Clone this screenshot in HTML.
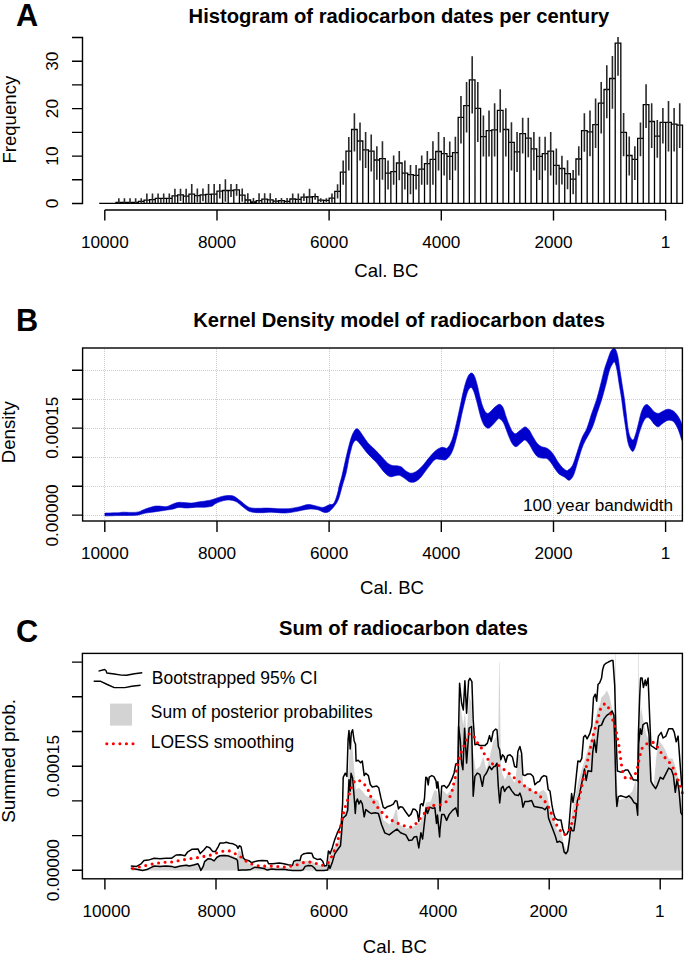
<!DOCTYPE html>
<html><head><meta charset="utf-8"><style>
html,body{margin:0;padding:0;background:#fff;}
svg{display:block;font-family:"Liberation Sans",sans-serif;}
</style></head><body>
<svg width="685" height="962" viewBox="0 0 685 962">
<rect width="685" height="962" fill="#fff"/>
<path d="M99.19 203.3V203.3H104.80V203.3ZM104.80 203.3V203.3H110.41V203.3ZM110.41 203.3V203.3H116.02V203.3ZM116.02 203.3V202.5H121.63V203.3ZM121.63 203.3V202.5H127.23V203.3ZM127.23 203.3V202.5H132.84V203.3ZM132.84 203.3V202.3H138.45V203.3ZM138.45 203.3V201.4H144.06V203.3ZM144.06 203.3V200.2H149.67V203.3ZM149.67 203.3V199.6H155.28V203.3ZM155.28 203.3V198.4H160.89V203.3ZM160.89 203.3V198.4H166.50V203.3ZM166.50 203.3V198.4H172.11V203.3ZM172.11 203.3V195.8H177.72V203.3ZM177.72 203.3V194.8H183.33V203.3ZM183.32 203.3V196.2H188.93V203.3ZM188.93 203.3V194.1H194.54V203.3ZM194.54 203.3V195.6H200.15V203.3ZM200.15 203.3V194.9H205.76V203.3ZM205.76 203.3V194.4H211.37V203.3ZM211.37 203.3V194.1H216.98V203.3ZM216.98 203.3V191.2H222.59V203.3ZM222.59 203.3V190.5H228.20V203.3ZM228.20 203.3V190.5H233.81V203.3ZM233.81 203.3V189.8H239.41V203.3ZM239.41 203.3V195.2H245.02V203.3ZM245.02 203.3V200.0H250.63V203.3ZM250.63 203.3V202.0H256.24V203.3ZM256.24 203.3V200.7H261.85V203.3ZM261.85 203.3V199.1H267.46V203.3ZM267.46 203.3V199.8H273.07V203.3ZM273.07 203.3V201.2H278.68V203.3ZM278.68 203.3V200.7H284.29V203.3ZM284.29 203.3V201.4H289.90V203.3ZM289.90 203.3V199.0H295.50V203.3ZM295.50 203.3V199.4H301.11V203.3ZM301.11 203.3V197.2H306.72V203.3ZM306.72 203.3V197.0H312.33V203.3ZM312.33 203.3V196.6H317.94V203.3ZM317.94 203.3V200.1H323.55V203.3ZM323.55 203.3V200.3H329.16V203.3ZM329.16 203.3V198.1H334.77V203.3ZM334.77 203.3V191.4H340.38V203.3ZM340.38 203.3V172.1H345.99V203.3ZM345.99 203.3V151.2H351.59V203.3ZM351.60 203.3V129.5H357.20V203.3ZM357.20 203.3V141.0H362.81V203.3ZM362.81 203.3V149.8H368.42V203.3ZM368.42 203.3V151.2H374.03V203.3ZM374.03 203.3V160.0H379.64V203.3ZM379.64 203.3V158.6H385.25V203.3ZM385.25 203.3V173.2H390.86V203.3ZM390.86 203.3V171.6H396.47V203.3ZM396.47 203.3V163.0H402.08V203.3ZM402.08 203.3V173.2H407.69V203.3ZM407.69 203.3V174.7H413.29V203.3ZM413.29 203.3V175.4H418.90V203.3ZM418.90 203.3V169.2H424.51V203.3ZM424.51 203.3V163.7H430.12V203.3ZM430.12 203.3V159.3H435.73V203.3ZM435.73 203.3V151.5H441.34V203.3ZM441.34 203.3V153.7H446.95V203.3ZM446.95 203.3V156.4H452.56V203.3ZM452.56 203.3V152.6H458.17V203.3ZM458.17 203.3V117.4H463.77V203.3ZM463.77 203.3V105.6H469.38V203.3ZM469.38 203.3V79.9H474.99V203.3ZM474.99 203.3V108.3H480.60V203.3ZM480.60 203.3V136.7H486.21V203.3ZM486.21 203.3V130.6H491.82V203.3ZM491.82 203.3V129.8H497.43V203.3ZM497.43 203.3V110.4H503.04V203.3ZM503.04 203.3V129.5H508.65V203.3ZM508.65 203.3V142.3H514.26V203.3ZM514.26 203.3V151.9H519.87V203.3ZM519.87 203.3V133.6H525.47V203.3ZM525.47 203.3V138.2H531.08V203.3ZM531.08 203.3V148.8H536.69V203.3ZM536.69 203.3V156.4H542.30V203.3ZM542.30 203.3V153.7H547.91V203.3ZM547.91 203.3V151.1H553.52V203.3ZM553.52 203.3V165.3H559.13V203.3ZM559.13 203.3V168.5H564.74V203.3ZM564.74 203.3V173.6H570.35V203.3ZM570.35 203.3V179.1H575.96V203.3ZM575.95 203.3V159.0H581.56V203.3ZM581.56 203.3V130.6H587.17V203.3ZM587.17 203.3V131.9H592.78V203.3ZM592.78 203.3V124.6H598.39V203.3ZM598.39 203.3V103.2H604.00V203.3ZM604.00 203.3V89.5H609.61V203.3ZM609.61 203.3V78.5H615.22V203.3ZM615.22 203.3V43.2H620.83V203.3ZM620.83 203.3V132.4H626.44V203.3ZM626.44 203.3V155.5H632.04V203.3ZM632.05 203.3V159.3H637.65V203.3ZM637.65 203.3V138.3H643.26V203.3ZM643.26 203.3V104.6H648.87V203.3ZM648.87 203.3V121.5H654.48V203.3ZM654.48 203.3V136.1H660.09V203.3ZM660.09 203.3V122.4H665.70V203.3ZM665.70 203.3V122.4H671.31V203.3ZM671.31 203.3V124.2H676.92V203.3ZM676.92 203.3V125.1H682.53V203.3Z" stroke="#000" stroke-width="1.3" fill="#fff"/>
<path d="M118.82 198.3V203.3M124.43 198.3V203.3M130.04 198.3V203.3M135.65 198.3V203.3M141.26 198.3V203.3M146.87 193.4V203.3M152.48 193.4V203.3M158.08 193.4V203.3M163.69 193.4V203.3M169.30 193.4V203.3M174.91 188.7V202.9M180.52 188.7V200.9M186.13 188.7V203.3M191.74 184.1V203.3M197.35 188.6V202.6M202.96 188.6V201.2M208.57 183.9V203.3M214.17 183.9V203.3M219.78 183.9V198.5M225.39 179.3V201.7M231.00 183.9V197.1M236.61 183.9V195.7M242.22 188.6V201.8M247.83 193.3V203.3M253.44 198.1V203.3M259.05 193.3V203.3M264.66 193.3V203.3M270.26 193.3V203.3M275.87 198.1V203.3M281.48 198.1V203.3M287.09 198.1V203.3M292.70 193.4V203.3M298.31 193.4V203.3M303.92 193.4V201.0M309.53 188.7V203.3M315.14 193.4V199.8M320.75 198.3V201.9M326.35 198.3V202.3M331.96 193.4V202.8M337.57 184.3V198.5M343.18 160.4V184.8M348.79 136.9V170.5M354.40 113.2V151.5M360.01 122.6V160.6M365.62 131.9V168.1M371.23 134.4V171.6M376.84 146.3V179.8M382.44 141.3V179.8M388.05 160.4V189.4M393.66 155.6V184.8M399.27 150.9V180.2M404.88 160.4V189.4M410.49 165.0V194.2M416.10 165.0V189.4M421.71 155.6V184.8M427.32 150.9V184.8M432.93 141.3V184.8M438.53 131.9V170.5M444.14 136.9V175.4M449.75 141.5V180.1M455.36 136.7V170.5M460.97 96.1V143.5M466.58 82.0V132.6M472.19 56.2V113.4M477.80 82.0V142.0M483.41 115.4V156.4M489.02 110.4V156.4M494.62 103.3V156.4M500.23 89.2V132.6M505.84 108.3V156.4M511.45 122.3V170.5M517.06 132.1V172.1M522.67 117.7V153.4M528.28 117.7V157.2M533.89 132.1V170.5M539.50 136.7V180.0M545.11 136.7V170.5M550.71 132.1V175.4M556.32 148.4V184.7M561.93 155.7V184.6M567.54 160.3V189.2M573.15 170.0V194.3M578.76 146.2V175.4M584.37 113.2V151.7M589.98 110.5V156.2M595.59 98.6V148.0M601.20 82.1V133.4M606.80 65.3V118.2M612.41 56.0V108.7M618.02 37.0V75.7M623.63 112.9V156.2M629.24 136.5V175.4M634.85 146.2V180.0M640.46 122.4V156.2M646.07 84.3V127.9M651.68 103.2V148.0M657.29 120.0V157.7M662.89 108.1V143.4M668.50 101.0V151.6M674.11 108.1V151.6M679.72 103.2V148.0" stroke="#2a2a2a" stroke-width="1.6" fill="none"/>
<path d="M72 37.5H82.5V203.5H72M72 179.8H82.5M72 156.1H82.5M72 132.4H82.5M72 108.6H82.5M72 84.9H82.5M72 61.2H82.5" stroke="#000" stroke-width="1.4" fill="none"/>
<path d="M104.8 210H665.6M104.8 210V220.5M217.0 210V220.5M329.1 210V220.5M441.3 210V220.5M553.5 210V220.5M665.6 210V220.5" stroke="#000" stroke-width="1.4" fill="none"/>
<text transform="translate(58.0 203.5) rotate(-90)" text-anchor="middle" font-size="17.2" >0</text>
<text transform="translate(58.0 156.1) rotate(-90)" text-anchor="middle" font-size="17.2" >10</text>
<text transform="translate(58.0 108.6) rotate(-90)" text-anchor="middle" font-size="17.2" >20</text>
<text transform="translate(58.0 61.2) rotate(-90)" text-anchor="middle" font-size="17.2" >30</text>
<text x="104.8" y="247.8" text-anchor="middle" font-size="17.2" >10000</text>
<text x="217.0" y="247.8" text-anchor="middle" font-size="17.2" >8000</text>
<text x="329.1" y="247.8" text-anchor="middle" font-size="17.2" >6000</text>
<text x="441.3" y="247.8" text-anchor="middle" font-size="17.2" >4000</text>
<text x="553.5" y="247.8" text-anchor="middle" font-size="17.2" >2000</text>
<text x="665.6" y="247.8" text-anchor="middle" font-size="17.2" >1</text>
<text x="386.4" y="276.6" text-anchor="middle" font-size="18.6" >Cal. BC</text>
<text transform="translate(16.0 119.7) rotate(-90)" text-anchor="middle" font-size="18.6" >Frequency</text>
<text x="398.9" y="23.0" text-anchor="middle" font-size="20.2" font-weight="bold">Histogram of radiocarbon dates per century</text>
<text x="16.0" y="25.6" font-size="30.7" font-weight="bold">A</text>
<path d="M83 515.5H682M83 486.5H682M83 457.5H682M83 428.5H682M83 399.5H682M83 370.5H682M104.5 349V520.5M216.5 349V520.5M329.5 349V520.5M441.5 349V520.5M553.5 349V520.5M665.5 349V520.5" stroke="#cdcdcd" stroke-width="1" stroke-dasharray="1 1" fill="none"/>
<path d="M104.9 513.1C107.0 513.0 114.5 512.9 117.5 512.8C120.5 512.6 120.5 512.3 122.8 512.2C125.1 512.1 128.9 512.5 131.5 512.4C134.1 512.3 136.2 512.5 138.5 511.9C140.8 511.3 142.9 509.8 145.5 508.9C148.1 508.0 152.0 506.8 154.3 506.3C156.7 505.8 157.6 506.1 159.6 506.1C161.6 506.2 164.3 507.0 166.6 506.6C168.9 506.2 171.6 504.4 173.6 503.7C175.6 503.0 177.1 502.5 178.8 502.3C180.6 502.1 182.1 502.5 184.1 502.6C186.1 502.7 188.5 503.2 191.1 503.1C193.7 503.0 197.0 502.1 199.9 501.7C202.8 501.3 206.1 501.0 208.6 500.5C211.1 500.0 212.8 499.4 215.0 498.7C217.2 498.0 219.7 496.9 222.0 496.4C224.3 495.9 226.9 495.5 229.0 495.5C231.1 495.5 232.2 495.4 234.3 496.4C236.4 497.4 239.0 499.9 241.3 501.6C243.6 503.4 246.0 505.8 248.3 506.9C250.6 508.0 252.1 508.1 255.3 508.3C258.5 508.5 263.8 508.0 267.6 508.1C271.4 508.2 274.6 508.6 278.1 508.7C281.6 508.8 285.1 509.0 288.6 508.7C292.1 508.4 295.9 507.6 299.1 506.9C302.3 506.2 305.3 504.8 307.9 504.6C310.5 504.4 312.6 505.2 314.9 505.7C317.2 506.2 320.2 507.2 321.9 507.4C323.6 507.6 323.8 507.2 325.0 506.8C326.2 506.4 327.8 505.2 329.2 504.7C330.6 504.2 332.1 504.9 333.3 503.8C334.5 502.7 335.3 500.1 336.1 498.0C336.9 495.9 337.5 493.4 338.0 491.5C338.5 489.6 338.4 488.9 339.0 486.5C339.6 484.1 340.7 480.6 341.6 477.2C342.5 473.8 343.3 469.6 344.2 465.8C345.1 462.0 345.9 458.0 346.8 454.3C347.7 450.6 348.5 447.0 349.4 443.9C350.3 440.8 351.1 437.9 352.0 435.6C352.9 433.4 353.8 431.5 354.6 430.4C355.4 429.3 355.9 428.8 356.7 428.8C357.5 428.8 358.2 429.1 359.3 430.4C360.4 431.7 362.1 434.6 363.5 436.6C364.9 438.6 366.1 440.6 367.6 442.4C369.2 444.2 371.1 445.9 372.8 447.6C374.5 449.3 376.8 451.6 378.0 452.8C379.2 454.0 379.0 453.7 380.0 454.8C381.0 455.9 382.7 457.9 384.1 459.4C385.5 460.8 386.8 462.5 388.2 463.5C389.6 464.5 390.8 465.1 392.3 465.5C393.8 465.9 395.9 465.5 397.4 465.8C398.9 466.1 400.1 466.3 401.5 467.1C402.9 467.9 404.0 469.7 405.5 470.7C407.0 471.7 409.0 473.0 410.7 473.2C412.4 473.4 414.1 472.6 415.8 471.7C417.5 470.8 419.2 469.3 420.9 467.6C422.6 465.9 424.3 463.6 426.0 461.5C427.7 459.4 429.4 457.2 431.1 455.3C432.8 453.4 434.5 451.5 436.2 450.2C437.9 448.9 439.8 447.8 441.3 447.4C442.8 447.0 444.4 447.9 445.4 448.0C446.4 448.1 446.3 448.9 447.1 448.2C447.9 447.5 449.2 446.1 450.2 444.0C451.2 441.9 452.3 439.2 453.3 435.7C454.3 432.2 455.3 427.7 456.4 423.2C457.4 418.7 458.6 413.5 459.6 408.7C460.7 403.9 461.7 398.5 462.7 394.1C463.7 389.7 464.8 385.4 465.8 382.2C466.8 379.0 467.9 376.4 468.9 374.9C469.9 373.4 470.9 372.9 471.8 373.1C472.8 373.4 473.7 374.4 474.6 376.4C475.5 378.3 476.3 381.5 477.2 384.8C478.1 388.1 478.9 392.7 479.8 396.2C480.7 399.7 481.5 403.1 482.4 405.6C483.3 408.1 484.1 410.0 485.0 411.3C485.9 412.6 486.6 413.4 487.6 413.4C488.6 413.4 489.6 412.4 490.8 411.3C492.0 410.2 493.4 408.3 494.9 407.1C496.4 405.9 498.2 404.2 499.6 404.3C501.0 404.4 502.0 405.6 503.1 407.7C504.2 409.8 505.1 414.1 506.2 417.0C507.2 419.9 508.3 423.0 509.4 425.4C510.4 427.8 511.5 430.2 512.5 431.6C513.5 433.0 514.4 433.9 515.6 433.7C516.8 433.5 518.2 431.7 519.8 430.6C521.4 429.5 523.5 427.0 525.0 426.9C526.5 426.8 527.7 428.3 529.1 430.0C530.5 431.7 531.9 435.0 533.3 437.3C534.7 439.6 536.0 442.0 537.4 443.6C538.8 445.2 540.2 446.0 541.6 446.7C543.0 447.4 544.4 447.1 545.8 447.7C547.2 448.3 548.5 449.0 549.9 450.3C551.3 451.6 552.7 453.5 554.1 455.5C555.5 457.5 556.8 460.3 558.2 462.3C559.6 464.3 561.0 466.1 562.4 467.5C563.8 468.9 565.7 470.2 566.6 470.6C567.5 471.1 566.8 471.1 567.8 470.2C568.8 469.3 571.0 468.5 572.5 465.5C574.0 462.5 575.6 456.9 577.1 452.3C578.6 447.8 580.2 442.2 581.8 438.2C583.4 434.2 585.3 432.2 586.9 428.2C588.5 424.2 589.9 418.8 591.5 414.0C593.1 409.2 595.2 404.0 596.7 399.2C598.2 394.4 599.2 389.8 600.5 385.0C601.8 380.2 603.0 374.5 604.2 370.2C605.4 365.9 606.8 362.2 607.9 359.0C609.0 355.8 609.9 352.8 611.0 351.0C612.1 349.2 613.6 347.7 614.7 348.4C615.8 349.1 616.7 351.7 617.6 355.3C618.5 358.9 619.1 365.2 619.9 370.2C620.7 375.1 621.5 380.2 622.2 385.0C623.0 389.8 623.7 394.0 624.4 398.8C625.1 403.6 625.6 408.8 626.2 413.6C626.8 418.4 627.3 423.6 627.9 427.4C628.5 431.2 629.1 434.4 630.0 436.5C630.9 438.6 632.1 440.1 633.0 440.0C633.9 439.9 634.3 438.1 635.1 435.8C635.9 433.5 636.8 430.0 637.7 426.4C638.7 422.8 639.8 417.2 640.8 413.9C641.8 410.6 642.9 408.2 643.9 406.6C644.9 405.1 646.0 404.5 647.0 404.6C648.0 404.7 649.0 406.0 650.2 407.2C651.4 408.4 652.9 410.8 654.3 411.8C655.7 412.8 657.1 413.5 658.5 413.4C659.9 413.3 661.1 412.0 662.6 411.3C664.1 410.6 666.1 409.3 667.8 409.2C669.5 409.1 671.4 409.8 673.0 410.8C674.6 411.8 676.0 413.4 677.2 415.0C678.4 416.6 679.4 418.5 680.3 420.2C681.2 421.9 682.0 424.5 682.4 425.4L682.4 441C682.2 440.6 682.1 440.8 681.4 438.9C680.7 437.0 679.4 432.3 678.2 429.5C677.0 426.7 675.5 423.8 674.1 422.2C672.7 420.6 671.3 420.4 669.9 420.2C668.5 420.0 667.2 420.5 665.8 421.2C664.4 421.9 662.9 423.4 661.6 424.3C660.3 425.2 659.2 426.9 658.0 426.9C656.8 426.9 655.4 425.4 654.3 424.3C653.2 423.2 652.2 421.3 651.2 420.2C650.2 419.1 649.1 417.8 648.1 417.6C647.1 417.4 646.0 417.8 645.0 419.1C644.0 420.4 642.8 422.8 641.8 425.4C640.8 428.0 639.7 431.2 638.7 434.7C637.7 438.2 636.6 443.4 635.6 446.2C634.6 449.0 633.9 450.9 633.0 451.4C632.1 451.9 631.4 450.5 630.5 449.0C629.6 447.5 628.7 445.8 627.9 442.2C627.1 438.6 626.3 432.2 625.6 427.4C624.9 422.6 624.2 418.4 623.5 413.6C622.8 408.8 622.3 403.6 621.6 398.8C620.9 394.0 620.1 389.8 619.3 385.0C618.5 380.2 617.8 374.0 617.0 370.2C616.2 366.4 615.5 363.2 614.7 362.2C614.0 361.2 613.4 362.7 612.5 364.0C611.6 365.3 610.6 366.9 609.5 370.2C608.4 373.5 607.3 379.2 606.0 384.0C604.7 388.8 603.3 394.3 601.8 399.2C600.3 404.1 598.6 408.7 597.0 413.5C595.4 418.3 594.3 423.0 592.0 428.2C589.7 433.4 585.6 439.4 583.4 444.5C581.2 449.6 580.3 453.6 578.7 458.5C577.1 463.4 575.5 470.5 574.0 474.1C572.5 477.7 570.9 479.8 569.4 480.3C567.9 480.8 566.4 478.2 564.7 477.2C563.0 476.2 560.9 475.6 559.3 474.3C557.7 473.0 556.5 471.0 555.1 469.1C553.7 467.2 552.4 464.6 551.0 462.8C549.6 461.1 548.4 459.4 546.8 458.6C545.2 457.8 543.2 458.4 541.6 458.1C540.0 457.8 538.8 457.7 537.4 456.6C536.0 455.5 534.7 453.5 533.3 451.4C531.9 449.3 530.5 446.0 529.1 444.1C527.7 442.2 526.4 440.1 525.0 439.9C523.6 439.7 522.3 441.9 520.8 443.0C519.3 444.1 517.5 446.5 516.1 446.7C514.7 446.9 513.6 445.6 512.5 444.1C511.4 442.6 510.4 440.2 509.4 437.8C508.3 435.4 507.2 432.1 506.2 429.5C505.1 426.9 504.3 424.0 503.1 422.2C501.9 420.4 500.3 418.8 499.1 418.6C497.9 418.4 497.2 420.0 496.0 421.2C494.8 422.4 493.1 424.6 491.8 425.8C490.5 427.0 489.4 428.2 488.2 428.2C487.0 428.2 485.6 427.3 484.5 425.8C483.4 424.3 482.3 421.8 481.4 419.1C480.4 416.4 479.7 413.0 478.8 409.7C477.9 406.4 477.1 402.4 476.2 399.3C475.3 396.2 474.5 393.0 473.6 391.0C472.7 389.0 471.9 387.4 471.0 387.4C470.1 387.4 468.9 388.7 467.9 391.0C466.9 393.3 465.9 397.4 464.8 401.4C463.8 405.4 462.7 410.2 461.6 414.9C460.6 419.6 459.5 425.0 458.5 429.5C457.5 434.0 456.4 438.3 455.4 441.9C454.4 445.5 453.3 448.9 452.3 451.3C451.3 453.7 450.4 455.1 449.2 456.5C448.0 457.9 446.9 459.4 445.4 459.9C443.9 460.4 442.0 459.5 440.3 459.4C438.6 459.3 436.9 458.5 435.2 459.4C433.5 460.3 431.8 462.9 430.1 465.0C428.4 467.1 426.7 469.5 425.0 471.7C423.3 473.9 421.6 476.6 419.9 478.3C418.2 480.0 416.4 481.3 414.7 481.9C413.0 482.5 411.3 482.5 409.6 481.9C407.9 481.3 406.2 479.4 404.5 478.3C402.8 477.2 400.9 475.7 399.4 475.3C397.9 474.9 396.7 475.6 395.3 475.8C393.9 476.1 392.4 476.8 391.2 476.8C390.0 476.8 389.4 476.6 388.2 475.8C387.0 475.0 385.5 473.6 384.1 472.2C382.7 470.8 381.4 468.8 380.0 467.1C378.6 465.4 377.5 463.8 376.0 462.1C374.5 460.4 372.5 458.7 370.8 456.9C369.1 455.1 367.3 453.3 365.6 451.2C363.9 449.1 362.0 446.2 360.4 444.4C358.8 442.6 357.4 440.4 356.2 440.3C354.9 440.2 353.8 442.1 352.9 443.7C352.0 445.3 351.6 447.7 351.0 450.0C350.4 452.3 350.0 453.7 349.2 457.3C348.4 460.9 347.2 468.2 346.4 471.8C345.6 475.4 345.1 476.6 344.4 479.0C343.7 481.4 343.1 483.1 342.2 486.3C341.3 489.5 340.0 495.0 338.9 498.0C337.8 501.0 337.2 502.2 335.6 504.5C334.0 506.8 331.0 510.2 329.2 511.5C327.4 512.8 325.9 512.4 325.0 512.5C324.1 512.6 325.0 512.7 323.6 512.2C322.2 511.7 319.2 510.0 316.6 509.5C314.0 509.0 311.4 508.8 307.9 509.2C304.4 509.6 299.4 511.0 295.6 511.6C291.8 512.2 289.2 512.9 285.1 513.0C281.0 513.1 275.2 512.2 271.1 512.2C267.0 512.2 264.0 512.8 260.5 512.7C257.0 512.6 252.9 512.6 250.0 511.6C247.1 510.6 245.3 508.6 243.0 506.9C240.7 505.2 238.3 502.8 236.0 501.6C233.7 500.4 231.3 500.0 229.0 499.9C226.7 499.8 224.3 500.4 222.0 501.1C219.7 501.8 216.7 503.1 215.0 503.9C213.3 504.7 213.8 505.6 212.1 506.1C210.4 506.7 207.7 507.0 205.1 507.2C202.5 507.4 199.3 507.1 196.4 507.2C193.5 507.3 190.5 507.9 187.6 508.0C184.7 508.1 181.1 507.4 178.8 507.5C176.5 507.6 175.6 508.5 173.6 508.9C171.6 509.3 169.8 509.6 166.6 510.1C163.4 510.6 157.8 511.4 154.3 511.9C150.8 512.4 148.1 512.6 145.5 513.1C142.9 513.6 140.8 514.5 138.5 514.9C136.2 515.3 135.0 515.3 131.5 515.4C128.0 515.5 121.9 515.5 117.5 515.6C113.1 515.7 107.0 515.9 104.9 515.9Z" fill="#0000cd" stroke="#0000cd" stroke-width="0.6"/>
<rect x="82.6" y="348" width="599.8" height="173" stroke="#000" stroke-width="1.4" fill="none"/>
<path d="M72 515.1H82.6M72 486.2H82.6M72 457.2H82.6M72 428.1H82.6M72 399.2H82.6M72 370.3H82.6M104.8 521V532M217.0 521V532M329.1 521V532M441.3 521V532M553.5 521V532M665.6 521V532" stroke="#000" stroke-width="1.4" fill="none"/>
<text transform="translate(58.0 515.5) rotate(-90)" text-anchor="middle" font-size="17.2" >0.00000</text>
<text transform="translate(58.0 427.7) rotate(-90)" text-anchor="middle" font-size="17.2" >0.00015</text>
<text x="104.8" y="558.8" text-anchor="middle" font-size="17.2" >10000</text>
<text x="217.0" y="558.8" text-anchor="middle" font-size="17.2" >8000</text>
<text x="329.1" y="558.8" text-anchor="middle" font-size="17.2" >6000</text>
<text x="441.3" y="558.8" text-anchor="middle" font-size="17.2" >4000</text>
<text x="553.5" y="558.8" text-anchor="middle" font-size="17.2" >2000</text>
<text x="665.6" y="558.8" text-anchor="middle" font-size="17.2" >1</text>
<text x="392.0" y="593.6" text-anchor="middle" font-size="18.6" >Cal. BC</text>
<text transform="translate(15.3 432.2) rotate(-90)" text-anchor="middle" font-size="18.6" >Density</text>
<text x="399.1" y="326.8" text-anchor="middle" font-size="20.2" font-weight="bold">Kernel Density model of radiocarbon dates</text>
<text x="16.0" y="330.6" font-size="30.7" font-weight="bold">B</text>
<text x="673.1" y="510.5" text-anchor="end" font-size="17.2" >100 year bandwidth</text>
<polygon points="130.8,870.4 130.8,868.5 142.0,869.5 150.0,868.5 155.0,865.5 160.0,865.5 166.0,865.2 172.0,865.5 175.0,866.3 181.0,865.0 187.0,864.3 190.0,865.0 194.0,864.0 198.0,862.8 199.5,865.5 200.9,869.5 203.0,865.5 204.6,860.6 208.0,857.6 211.0,858.0 214.0,859.8 217.0,856.2 220.0,854.6 225.0,854.3 230.0,854.8 234.0,856.5 236.6,858.2 238.8,850.0 242.0,853.0 246.0,860.0 250.0,864.0 255.0,866.8 265.0,866.8 275.0,867.6 285.0,867.3 292.0,868.0 295.0,862.0 300.0,861.2 306.0,860.7 312.0,860.7 315.0,863.8 319.0,865.1 325.0,866.4 327.0,865.6 329.0,855.0 330.6,857.6 332.5,848.9 335.0,846.3 338.0,842.0 340.0,836.0 342.6,816.8 346.0,810.3 348.0,776.5 350.2,744.2 351.8,739.4 354.2,768.4 356.0,789.4 359.0,787.7 362.3,791.0 365.8,795.8 370.3,797.4 378.4,800.6 383.2,820.0 390.0,824.8 394.0,815.0 395.4,810.0 397.0,810.0 398.5,824.0 405.8,828.6 412.0,827.6 416.7,824.5 420.4,822.4 424.0,812.0 426.0,802.6 430.8,801.5 433.0,794.0 434.9,790.0 437.0,791.0 439.0,805.0 441.7,791.0 444.0,791.2 447.0,794.6 451.0,790.0 453.3,786.3 456.6,774.7 458.6,753.0 459.9,703.2 463.3,724.8 465.0,711.5 466.6,736.5 469.0,695.0 471.6,703.2 473.2,753.0 475.7,769.7 479.9,766.4 483.2,756.4 486.5,769.7 489.8,756.4 493.2,741.5 496.5,736.5 498.2,746.0 499.2,662.0 499.6,662.0 500.8,763.2 502.0,773.0 505.0,779.8 508.3,771.5 511.6,778.0 515.0,783.0 518.3,754.8 521.6,754.8 523.2,786.4 528.2,786.4 533.2,791.4 538.2,793.1 543.2,789.7 546.5,793.1 549.8,806.4 555.0,823.0 557.0,830.7 560.6,829.0 564.1,844.9 566.8,850.2 569.4,834.3 572.1,809.5 574.7,798.9 578.3,781.3 581.8,768.9 585.3,758.3 588.9,745.9 592.4,735.3 594.2,724.7 597.7,708.8 600.0,705.0 601.2,697.7 604.7,694.2 606.8,690.6 609.4,696.0 612.1,708.3 613.9,717.0 615.2,715.0 615.4,653.5 615.9,653.5 616.3,773.7 618.3,800.2 625.3,798.4 632.4,791.3 635.9,779.0 637.7,809.0 638.3,653.5 638.9,653.5 639.0,724.9 641.0,706.2 643.4,721.0 646.2,734.3 649.0,739.9 651.9,781.0 653.7,784.8 656.5,754.9 658.4,739.9 661.2,743.6 665.0,749.3 668.7,758.6 672.5,758.6 675.3,766.0 678.1,777.3 680.9,799.8 682.4,814.0 682.4,870.4" fill="#d3d3d3"/>
<polyline points="130.8,866.0 136.7,866.4 141.1,863.8 144.0,860.6 148.4,860.1 154.2,858.2 160.0,858.7 165.9,858.2 171.7,858.2 176.1,855.0 180.5,854.7 184.9,855.8 187.8,851.8 192.2,849.2 198.0,848.9 200.2,853.6 203.8,849.9 206.8,846.6 209.7,847.7 212.6,851.4 215.5,851.4 218.4,846.3 219.9,843.1 223.5,843.1 226.1,842.3 229.6,843.3 233.1,843.8 236.6,845.6 238.0,848.4 239.3,845.8 241.0,846.6 242.3,852.8 243.2,858.0 245.4,859.8 248.9,860.7 251.5,862.6 255.0,861.5 258.5,860.8 262.0,860.5 267.3,860.7 268.6,863.7 272.6,863.7 276.9,863.3 279.4,863.1 283.8,863.8 288.1,864.7 292.5,865.4 293.8,861.2 296.9,860.3 300.0,860.5 301.3,855.5 303.9,853.7 308.3,853.1 311.8,853.3 313.5,857.7 317.0,859.4 320.5,859.0 322.7,861.2 324.5,866.0 326.7,865.5 328.4,851.1 329.7,852.4 330.0,853.9 332.4,847.4 334.8,839.4 337.3,832.9 339.7,828.1 341.3,823.2 342.6,803.9 343.2,777.3 345.3,773.2 346.9,776.5 348.1,739.4 349.0,730.5 350.2,749.0 351.3,732.9 352.6,729.7 354.2,741.0 355.5,744.2 356.1,761.1 358.2,760.3 360.6,762.7 362.3,761.1 364.2,775.6 365.8,773.2 368.4,775.6 370.3,784.5 372.3,786.9 376.8,786.1 378.7,787.7 380.8,797.4 383.2,807.1 385.0,808.4 387.1,806.8 390.2,805.8 393.3,804.2 395.4,800.6 397.0,801.1 398.5,808.9 400.1,806.8 402.7,807.3 405.8,812.0 408.9,816.2 411.0,814.1 413.1,808.9 415.2,809.4 417.2,812.0 418.8,821.4 420.4,804.7 421.9,803.7 423.0,805.8 424.5,798.5 425.8,777.2 427.1,778.2 428.2,785.0 429.2,777.2 431.8,775.6 433.9,776.6 436.0,780.8 436.8,788.1 437.8,781.8 439.1,793.3 440.1,811.0 441.7,786.3 444.2,785.5 446.6,788.0 449.1,784.7 451.6,779.7 454.1,773.0 455.8,763.9 458.0,763.1 458.6,728.2 459.6,683.3 461.6,703.2 463.3,709.9 464.9,680.8 466.6,713.2 468.6,680.8 469.9,678.3 471.9,681.6 473.2,719.9 474.9,744.8 477.4,744.0 479.9,745.6 482.4,745.6 484.9,745.6 487.4,743.1 489.5,735.6 491.2,741.5 493.2,731.5 495.7,729.0 497.0,729.9 498.3,746.5 499.7,749.9 500.8,759.8 502.5,754.8 504.1,756.5 505.8,762.3 507.5,755.7 510.0,754.8 512.5,757.3 514.6,766.5 516.6,767.3 517.9,751.5 519.9,746.5 521.6,753.2 522.9,774.8 524.9,775.6 527.4,774.0 530.7,774.0 533.2,776.5 534.9,784.8 537.4,782.3 539.5,781.4 541.5,777.3 544.0,775.6 546.5,776.5 548.2,789.7 550.0,791.0 551.8,804.2 553.5,813.1 555.3,818.4 558.0,820.1 561.0,820.1 562.7,829.0 565.0,835.2 566.8,834.3 568.6,830.7 570.3,809.5 571.6,793.6 573.0,802.5 574.7,791.9 576.5,774.2 577.9,761.0 580.0,761.8 581.8,758.3 583.6,737.1 585.3,735.3 587.1,738.9 589.8,733.6 591.8,726.0 593.5,697.7 595.3,694.2 596.7,701.2 598.0,684.5 599.7,682.7 601.5,678.3 602.7,669.4 604.1,665.0 605.9,663.3 607.7,662.4 609.4,661.5 611.2,660.6 613.0,660.6 614.7,685.3 616.1,738.3 617.4,771.0 620.0,771.9 622.7,771.9 625.3,770.1 628.0,770.1 630.6,774.6 633.3,779.9 635.9,779.9 637.7,780.7 638.4,734.3 639.7,696.8 640.6,678.1 642.1,678.1 643.4,687.5 645.3,680.0 646.2,685.6 648.1,678.1 649.6,715.5 650.9,745.5 653.7,747.4 656.5,749.3 658.4,736.1 661.2,732.4 663.1,738.0 665.9,736.1 668.7,728.7 672.5,728.7 674.3,732.4 676.2,741.8 678.1,736.1 680.0,762.4 681.8,786.7" fill="none" stroke="#000" stroke-width="1.5" stroke-linejoin="round"/>
<polyline points="130.8,868.2 136.7,869.3 142.5,870.4 146.9,869.6 151.3,867.4 154.2,866.0 160.0,866.4 165.9,866.0 171.7,866.4 174.6,867.4 180.5,866.0 186.3,865.3 189.2,866.0 193.6,865.0 198.0,863.8 199.5,866.7 200.9,870.4 203.1,866.7 204.6,861.6 208.2,858.7 211.1,859.1 214.1,860.9 217.0,857.2 219.9,855.8 224.4,855.6 228.8,856.1 233.1,857.9 236.6,859.3 237.5,860.7 238.4,870.3 241.9,869.9 246.3,870.1 250.7,869.4 255.0,867.2 259.4,867.7 263.8,868.4 267.3,870.1 271.7,869.0 276.1,869.4 279.4,869.5 283.8,869.2 288.1,870.1 292.5,870.4 296.9,870.4 301.3,870.4 303.0,869.8 305.2,866.4 308.3,865.5 311.8,865.7 314.4,868.0 316.2,870.4 320.5,870.4 324.0,870.4 327.6,870.1 328.9,865.1 330.0,868.4 332.4,861.9 334.8,853.9 338.1,849.0 340.5,845.8 341.6,832.9 342.6,818.4 344.5,816.8 346.1,815.2 347.7,810.3 349.0,779.7 350.2,791.0 351.0,773.2 352.6,778.1 354.2,797.4 355.3,813.5 356.1,802.3 357.4,799.0 359.0,803.9 360.6,800.6 362.3,803.9 364.2,816.8 365.8,809.5 368.7,811.9 371.1,813.5 375.2,812.7 378.4,813.5 381.6,824.8 384.8,832.9 389.2,834.9 393.3,831.7 397.0,829.1 400.6,832.8 405.8,834.9 408.9,840.6 412.0,840.1 414.1,837.0 416.7,836.4 418.8,847.9 420.9,832.8 422.6,839.0 424.0,826.5 426.1,807.8 427.6,813.6 429.7,807.3 432.8,808.4 434.9,807.8 436.5,823.4 437.5,815.1 439.6,837.0 440.0,829.5 441.7,814.6 444.2,814.6 446.6,820.4 449.1,814.6 452.5,810.4 455.8,807.9 458.0,816.3 458.6,726.5 460.3,739.8 461.6,763.1 462.9,769.7 464.6,728.2 466.6,763.1 469.1,728.2 471.6,726.5 473.2,796.3 474.9,776.4 477.4,773.0 479.9,774.7 482.4,786.3 484.0,776.4 486.5,773.0 489.5,766.4 491.5,769.7 494.0,766.4 495.0,766.5 497.0,763.2 498.3,786.4 499.7,803.0 501.3,788.1 503.0,786.4 504.6,791.4 506.6,788.1 509.1,786.4 511.6,790.6 514.9,794.7 518.3,795.6 519.9,793.1 521.6,798.1 522.9,807.2 524.9,801.4 528.2,801.4 531.6,800.5 534.1,806.4 538.2,807.2 542.4,808.0 544.9,809.7 547.4,806.4 548.5,818.0 550.0,821.9 552.7,829.0 555.3,836.0 557.1,842.2 559.7,841.3 562.4,843.1 564.1,851.9 565.9,853.7 567.7,851.1 569.4,839.6 570.8,827.2 572.1,830.7 573.9,830.7 575.6,818.4 577.4,800.7 579.2,795.4 581.8,783.0 584.5,768.9 586.2,780.4 588.0,770.7 591.5,771.6 592.7,752.5 594.4,740.1 596.2,752.5 597.4,738.3 598.8,726.0 601.5,725.1 604.1,718.9 606.8,715.4 609.4,713.6 612.1,711.0 613.9,715.4 615.1,756.0 616.1,794.9 616.9,806.4 618.3,796.6 620.9,795.8 623.6,796.6 626.2,797.5 628.9,795.8 631.5,798.4 634.2,802.8 636.3,803.7 637.7,815.2 638.7,743.6 640.2,728.7 641.6,734.3 642.9,724.9 645.3,723.0 647.2,723.0 649.0,734.3 650.9,781.1 652.8,784.8 655.6,788.6 657.5,784.8 660.3,777.3 663.1,779.2 665.9,773.6 668.7,768.0 671.5,769.9 673.4,775.5 675.3,792.3 677.1,779.2 679.0,790.4 680.9,812.9 682.4,815.0" fill="none" stroke="#000" stroke-width="1.5" stroke-linejoin="round"/>
<path d="M133 868.6C134.0 868.3 137.1 867.5 139.2 867.0C141.3 866.5 143.3 866.0 145.4 865.5C147.5 865.0 149.8 864.5 152.0 864.1C154.2 863.7 156.2 863.4 158.3 863.1C160.4 862.8 162.5 862.5 164.7 862.3C166.9 862.1 169.2 862.2 171.3 862.0C173.5 861.8 175.5 861.3 177.6 860.9C179.7 860.5 181.9 860.1 184.1 859.7C186.3 859.3 188.5 858.8 190.7 858.5C192.8 858.2 194.9 858.0 197.0 857.7C199.1 857.4 201.3 856.9 203.4 856.5C205.5 856.1 207.6 855.8 209.7 855.3C211.8 854.8 213.7 854.0 215.8 853.3C217.9 852.6 220.0 851.7 222.2 851.3C224.4 850.9 226.7 850.4 228.8 850.8C230.9 851.1 232.8 852.4 234.7 853.4C236.6 854.4 238.3 855.3 240.1 856.5C241.9 857.7 243.6 859.5 245.4 860.7C247.2 861.9 249.1 862.9 251.1 863.7C253.1 864.5 255.4 865.3 257.5 865.7C259.6 866.1 261.7 866.0 263.8 866.1C265.9 866.2 268.2 866.1 270.4 866.1C272.6 866.1 274.6 866.2 276.8 866.4C279.0 866.6 281.2 867.1 283.3 867.1C285.4 867.1 287.4 866.7 289.5 866.4C291.6 866.1 293.9 865.7 296.0 865.1C298.1 864.5 299.9 863.4 302.0 862.9C304.1 862.4 306.4 862.0 308.5 862.0C310.6 862.0 312.9 862.6 314.9 863.1C316.9 863.6 318.8 864.9 320.7 865.1C322.6 865.3 324.9 865.2 326.5 864.2C328.1 863.2 329.3 860.9 330.4 859.0C331.5 857.1 332.3 855.0 333.2 853.1C334.1 851.2 335.2 849.4 336.0 847.4C336.8 845.4 337.2 843.4 337.7 841.3C338.2 839.2 338.5 836.9 338.9 834.8C339.3 832.6 339.9 830.5 340.3 828.4C340.8 826.2 341.2 824.0 341.6 821.9C342.0 819.8 342.4 817.7 342.9 815.6C343.4 813.5 343.9 811.3 344.5 809.2C345.1 807.1 345.9 805.2 346.6 803.1C347.3 801.0 347.9 799.0 348.5 796.9C349.1 794.8 349.8 792.7 350.5 790.6C351.2 788.5 351.6 786.3 352.6 784.5C353.6 782.7 355.0 780.0 356.6 779.7C358.2 779.4 360.6 781.3 362.3 782.6C364.0 783.9 365.6 785.6 366.8 787.4C368.0 789.2 368.6 791.5 369.5 793.4C370.4 795.3 370.9 797.1 371.9 799.0C372.9 800.9 374.3 802.9 375.6 804.7C376.9 806.5 378.3 808.2 379.7 809.8C381.1 811.4 382.4 812.9 384.0 814.4C385.6 815.9 387.2 817.2 389.0 818.5C390.8 819.8 392.7 820.9 394.6 821.9C396.5 822.9 398.6 823.5 400.6 824.3C402.6 825.1 404.6 826.1 406.6 826.5C408.7 826.9 411.1 827.3 412.9 826.5C414.7 825.7 415.9 823.3 417.4 821.7C418.9 820.1 420.3 818.4 421.7 816.7C423.1 815.0 424.5 813.2 425.8 811.5C427.1 809.8 427.9 807.5 429.5 806.5C431.1 805.5 433.3 805.5 435.2 805.2C437.1 804.9 438.9 805.2 440.8 804.6C442.7 804.0 445.0 802.8 446.6 801.3C448.2 799.8 449.3 797.8 450.3 795.8C451.3 793.8 451.9 791.4 452.5 789.3C453.1 787.2 453.3 785.1 453.8 783.0C454.3 780.9 454.9 779.0 455.3 776.9C455.7 774.8 455.9 772.6 456.3 770.5C456.7 768.4 457.2 766.3 457.8 764.2C458.4 762.1 459.0 759.9 459.6 757.8C460.2 755.7 460.9 753.4 461.6 751.4C462.4 749.4 463.3 747.6 464.1 745.6C464.9 743.6 465.7 741.5 466.6 739.5C467.5 737.5 468.4 734.2 469.6 733.7C470.9 733.2 472.8 735.3 474.1 736.8C475.4 738.3 476.2 740.8 477.4 742.6C478.6 744.4 480.1 745.8 481.2 747.6C482.3 749.4 482.9 751.5 484.0 753.4C485.1 755.3 486.4 757.2 487.7 758.9C489.0 760.6 490.2 762.5 492.0 763.6C493.8 764.7 496.4 764.3 498.3 765.3C500.2 766.2 501.9 768.0 503.6 769.3C505.3 770.6 506.9 771.8 508.6 773.1C510.3 774.4 511.9 775.9 513.6 777.3C515.3 778.7 517.1 780.1 518.8 781.4C520.5 782.7 522.1 784.0 523.8 785.3C525.5 786.6 527.2 788.1 529.1 789.2C531.0 790.3 533.1 790.8 534.9 791.9C536.7 793.0 538.3 794.6 539.9 796.1C541.5 797.6 543.1 799.2 544.5 800.9C545.9 802.6 547.1 804.5 548.2 806.4C549.3 808.3 550.1 810.2 550.9 812.2C551.7 814.2 552.3 816.4 553.2 818.4C554.1 820.4 555.1 822.4 556.2 824.2C557.3 826.1 558.4 827.8 559.7 829.5C561.0 831.2 562.4 834.2 563.8 834.6C565.2 835.0 567.0 833.1 568.2 831.6C569.4 830.1 570.0 827.8 570.8 825.8C571.6 823.8 572.4 821.7 573.0 819.6C573.6 817.5 574.1 815.5 574.7 813.4C575.3 811.3 575.9 809.2 576.5 807.1C577.1 805.0 577.7 802.8 578.3 800.7C578.9 798.6 579.5 796.6 580.0 794.5C580.5 792.4 580.9 790.1 581.4 788.0C581.9 785.9 582.3 783.7 582.7 781.6C583.1 779.5 583.4 777.5 583.9 775.4C584.4 773.3 585.2 771.4 585.7 769.3C586.2 767.2 586.6 764.8 587.1 762.7C587.6 760.6 588.0 758.5 588.5 756.5C589.0 754.5 589.3 752.5 589.8 750.4C590.3 748.2 591.0 745.8 591.5 743.6C592.0 741.5 592.3 739.5 592.8 737.5C593.2 735.5 593.6 733.4 594.2 731.3C594.8 729.2 595.6 726.9 596.2 724.7C596.8 722.6 597.4 720.5 598.0 718.4C598.6 716.3 599.1 714.2 599.7 712.2C600.3 710.2 600.7 707.6 601.8 706.2C602.9 704.8 605.1 703.2 606.4 703.9C607.7 704.5 608.5 708.0 609.4 710.1C610.3 712.2 610.9 714.2 611.6 716.3C612.3 718.3 612.9 720.4 613.5 722.4C614.1 724.4 614.7 726.2 615.3 728.3C615.9 730.4 616.5 732.7 616.9 734.8C617.3 736.9 617.5 738.9 617.9 741.0C618.3 743.1 618.9 745.1 619.2 747.2C619.6 749.4 619.7 751.7 620.0 753.9C620.3 756.1 620.6 758.3 620.9 760.4C621.2 762.5 621.4 764.5 621.8 766.6C622.2 768.8 622.4 771.2 623.2 773.3C624.0 775.4 625.1 778.4 626.6 779.0C628.1 779.6 630.8 778.4 632.4 777.2C634.0 776.0 635.4 773.8 636.3 771.9C637.2 770.0 637.3 768.1 637.8 766.1C638.3 764.1 638.6 761.8 639.1 759.6C639.6 757.4 640.0 755.1 640.6 753.0C641.2 750.9 641.6 748.6 642.9 747.0C644.1 745.4 646.2 743.8 648.1 743.1C650.0 742.4 652.5 741.9 654.1 742.7C655.8 743.5 656.8 746.0 658.0 747.8C659.2 749.6 660.4 751.7 661.6 753.4C662.9 755.1 664.1 756.6 665.5 758.2C666.9 759.8 668.5 761.2 669.8 762.9C671.1 764.6 672.4 766.6 673.4 768.5C674.4 770.4 675.0 772.5 675.8 774.5C676.6 776.5 677.6 778.7 678.4 780.7C679.1 782.7 679.6 784.7 680.3 786.7C681.0 788.8 682.0 792.0 682.4 793.0" fill="none" stroke="#f00" stroke-width="3.1" stroke-linecap="round" stroke-dasharray="0 6.55"/>
<rect x="82.4" y="653.4" width="600" height="225.4" stroke="#000" stroke-width="1.4" fill="none"/>
<path d="M72 870.3H82.4M72 835.6H82.4M72 800.9H82.4M72 766.2H82.4M72 731.5H82.4M72 696.8H82.4M72 662.1H82.4M104.9 878.8V889.6M216.0 878.8V889.6M327.1 878.8V889.6M438.1 878.8V889.6M549.2 878.8V889.6M660.2 878.8V889.6" stroke="#000" stroke-width="1.4" fill="none"/>
<text transform="translate(58.5 870.2) rotate(-90)" text-anchor="middle" font-size="17.2" >0.00000</text>
<text transform="translate(58.5 766.1) rotate(-90)" text-anchor="middle" font-size="17.2" >0.00015</text>
<text x="106.4" y="916.8" text-anchor="middle" font-size="17.2" >10000</text>
<text x="216.6" y="916.8" text-anchor="middle" font-size="17.2" >8000</text>
<text x="328.9" y="916.8" text-anchor="middle" font-size="17.2" >6000</text>
<text x="438.2" y="916.8" text-anchor="middle" font-size="17.2" >4000</text>
<text x="548.5" y="916.8" text-anchor="middle" font-size="17.2" >2000</text>
<text x="659.7" y="916.8" text-anchor="middle" font-size="17.2" >1</text>
<text x="394.9" y="953.3" text-anchor="middle" font-size="18.6" >Cal. BC</text>
<text transform="translate(15.2 760.9) rotate(-90)" text-anchor="middle" font-size="18.9" >Summed prob.</text>
<text x="403.5" y="635.0" text-anchor="middle" font-size="20.2" font-weight="bold">Sum of radiocarbon dates</text>
<text x="16.0" y="641.9" font-size="30.7" font-weight="bold">C</text>
<path d="M98.5 671.2L104.6 669.5L106 670.5L106.8 673L114.3 674L121.3 675.1L126.5 675.3L134.4 673.8L142.3 672.7M93.7 681.3L100.7 681.3L107.3 684.5L114.3 687.6L124.8 687.6L131.8 686.3L140.6 685.2" stroke="#000" stroke-width="1.4" stroke-linejoin="round" fill="none"/>
<rect x="110" y="703.6" width="22" height="22" fill="#d3d3d3"/>
<path d="M106.8 743.8H133.1" stroke="#f00" stroke-width="3.1" stroke-dasharray="0 6.55" stroke-linecap="round" fill="none"/>
<text x="151.8" y="684.4" text-anchor="start" font-size="17.45" >Bootstrapped 95% CI</text>
<text x="150.8" y="717.7" text-anchor="start" font-size="17.45" >Sum of posterior probabilites</text>
<text x="150.8" y="748.4" text-anchor="start" font-size="17.45" >LOESS smoothing</text>
</svg></body></html>
